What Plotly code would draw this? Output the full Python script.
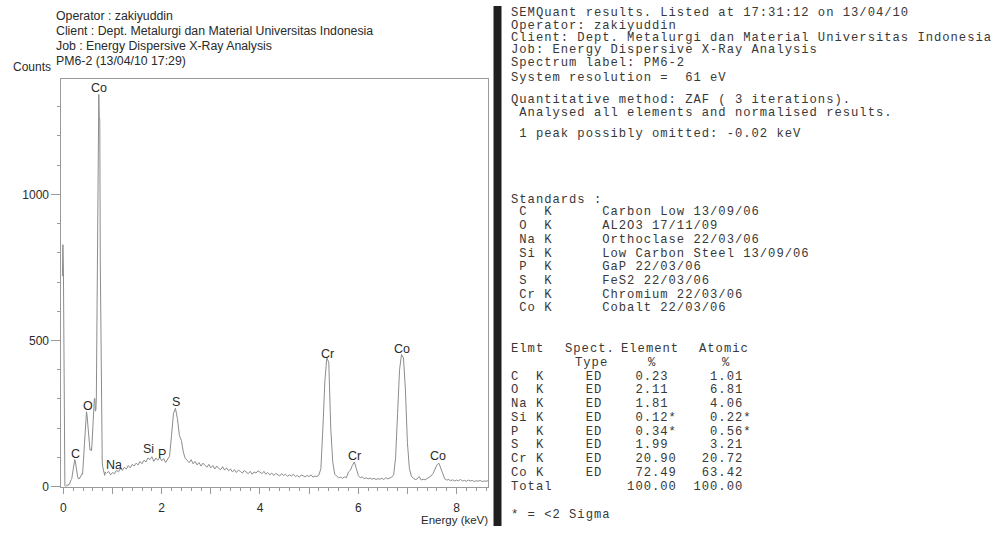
import plotly.graph_objects as go

# ---------------------------------------------------------------------------
# EDS spectrum of sample PM6-2
# ---------------------------------------------------------------------------
# Low-energy channels, 10 eV spacing, starting at -0.02 keV
LOW_E0 = -0.02
LOW_DE = 0.01
low_counts = [
    720, 828, 745, 330, 25, 2, 0, 1, 3, 2,
    6, 4, 7, 5, 8, 14, 11, 18, 24, 27,
    38, 52, 64, 78, 88, 92, 89, 76, 58, 45,
    38, 33, 29, 26, 30, 27, 31, 36, 33, 39,
    44, 42, 70, 90, 120, 160, 200, 232, 250, 256,
    246, 228, 200, 172, 150, 132, 126, 128, 124, 122,
    140, 175, 210, 262, 300, 302, 301, 258, 262, 300,
    520, 917, 925, 1340, 1342, 1262, 1258, 780, 520, 250,
    112, 84, 68, 56, 50, 44, 38, 50, 45,
]

# Main channels, 40 eV spacing, starting at 0.88 keV
MAIN_E0 = 0.88
MAIN_DE = 0.04
main_counts = [
    45, 52, 40, 48, 44, 56, 50, 62, 55, 66,        # 0.88 - 1.24
    60, 72, 64, 76, 70, 80, 74, 86, 78, 90,        # 1.28 - 1.64
    84, 98, 92, 102, 86, 98, 90, 100, 88, 96,      # 1.68 - 2.04
    82, 94, 104, 175, 250, 268, 232, 175, 158, 118,  # 2.08 - 2.44
    96, 90, 82, 92, 78, 86, 74, 82, 70, 80,        # 2.48 - 2.84
    72, 66, 76, 64, 72, 60, 70, 62, 58, 68,        # 2.88 - 3.24
    56, 64, 54, 60, 50, 58, 48, 56, 52, 46,        # 3.28 - 3.64
    55, 48, 44, 52, 42, 50, 46, 54, 48, 44,        # 3.68 - 4.04
    52, 42, 48, 40, 46, 38, 45, 40, 36, 44,        # 4.08 - 4.44
    38, 42, 35, 40, 36, 42, 34, 38, 32, 40,        # 4.48 - 4.84
    36, 33, 38, 34, 40, 32, 36, 34, 40, 62,        # 4.88 - 5.24
    200, 360, 440, 425, 200, 85, 42, 34, 30, 32,   # 5.28 - 5.64
    28, 33, 30, 50, 56, 72, 84, 62, 38, 30,        # 5.68 - 6.04
    33, 27, 30, 26, 29, 25, 28, 24, 27, 25,        # 6.08 - 6.44
    28, 24, 30, 26, 28, 32, 40, 100, 250, 400,     # 6.48 - 6.84
    452, 440, 330, 150, 62, 36, 28, 24, 26, 34,    # 6.88 - 7.24
    22, 25, 23, 27, 30, 36, 44, 60, 74, 80,        # 7.28 - 7.64
    62, 40, 26, 22, 24, 20, 23, 19, 22, 20,        # 7.68 - 8.04
    24, 19, 21, 18, 22, 19, 21, 17, 20, 18,        # 8.08 - 8.44
    21, 17, 19, 18, 20,                            # 8.48 - 8.64
]

peak_names = ["Co", "C", "O", "Na", "Si", "P", "S", "Cr", "Cr", "Co", "Co"]
peak_label_kev = [0.73, 0.25, 0.50, 1.03, 1.74, 2.00, 2.29, 5.38, 5.92, 6.90, 7.63]
peak_label_counts = [1365, 112, 277, 72, 128, 111, 288, 453, 105, 470, 105]

x_tick_vals = [0, 1, 2, 3, 4, 5, 6, 7, 8]
x_tick_text = ["0", "", "2", "", "4", "", "6", "", "8"]
y_tick_vals = [0, 500, 1000]
y_tick_text = ["0", "500", "1000"]

spectrum_header = [
    "Operator : zakiyuddin",
    "Client : Dept. Metalurgi dan Material Universitas Indonesia",
    "Job : Energy Dispersive X-Ray Analysis",
    "PM6-2 (13/04/10 17:29)",
]

# ---------------------------------------------------------------------------
# SEMQuant report
# ---------------------------------------------------------------------------
report_intro = [
    "SEMQuant results. Listed at 17:31:12 on 13/04/10",
    "Operator: zakiyuddin",
    "Client: Dept. Metalurgi dan Material Universitas Indonesia",
    "Job: Energy Dispersive X-Ray Analysis",
    "Spectrum label: PM6-2",
]
report_method = [
    "System resolution =  61 eV",
    "Quantitative method: ZAF ( 3 iterations).",
    " Analysed all elements and normalised results.",
    " 1 peak possibly omitted: -0.02 keV",
]
elements = ["C", "O", "Na", "Si", "P", "S", "Cr", "Co"]
standards = [
    "Carbon Low 13/09/06",
    "AL2O3 17/11/09",
    "Orthoclase 22/03/06",
    "Low Carbon Steel 13/09/06",
    "GaP 22/03/06",
    "FeS2 22/03/06",
    "Chromium 22/03/06",
    "Cobalt 22/03/06",
]
table_heads = ["Elmt", "Spect.", "Element", "Atomic"]
table_units = ["Type", "%", "%"]
element_pct = [0.23, 2.11, 1.81, 0.12, 0.34, 1.99, 20.90, 72.49]
atomic_pct = [1.01, 6.81, 4.06, 0.22, 0.56, 3.21, 20.72, 63.42]
below_2_sigma = [False, False, False, True, True, False, False, False]
element_total = 100.00
atomic_total = 100.00

# ---------------------------------------------------------------------------
W, H = 1000, 533
LEFT_FONT = "Arial, Liberation Sans, Helvetica, sans-serif"
MONO_FONT = "Courier New, Liberation Mono, monospace"
INK = "#2a2a2a"
MONO_INK = "#383838"
MONO_SIZE = 12.2
MONO_PITCH = 8.3                       # printer character pitch in px
MONO_TRACK = MONO_PITCH - 0.6 * MONO_SIZE
TEXT_X = 509


def px_x(x):
    return x / W


def px_y(y):
    return 1 - y / H


def mono(s):
    body = s.replace(" ", "\u00a0")
    return f'<span style="letter-spacing:{MONO_TRACK:.2f}px">{body}</span>'


def mono_note(text, x, y):
    return dict(
        x=px_x(x), y=px_y(y), xref="paper", yref="paper",
        text=mono(text), showarrow=False, xanchor="left", yanchor="middle",
        font=dict(family=MONO_FONT, size=MONO_SIZE, color=MONO_INK),
    )


fig = go.Figure()

fig.add_trace(go.Scatter(
    x0=LOW_E0, dx=LOW_DE, y=low_counts, mode="lines",
    line=dict(color="#8c8c8c", width=1), hoverinfo="skip", showlegend=False,
))
fig.add_trace(go.Scatter(
    x0=MAIN_E0, dx=MAIN_DE, y=main_counts, mode="lines",
    line=dict(color="#8c8c8c", width=1), hoverinfo="skip", showlegend=False,
))

annotations = []

# element labels above peaks
for name, e, c in zip(peak_names, peak_label_kev, peak_label_counts):
    annotations.append(dict(
        x=e, y=c, xref="x", yref="y", text=name, showarrow=False,
        xanchor="center", yanchor="middle",
        font=dict(family=LEFT_FONT, size=12.5, color=INK),
    ))

# spectrum header block
for i, line in enumerate(spectrum_header):
    annotations.append(dict(
        x=px_x(53), y=px_y(16 + 15.3 * i), xref="paper", yref="paper",
        text=line, showarrow=False, xanchor="left", yanchor="middle",
        font=dict(family=LEFT_FONT, size=12.3, color=INK),
    ))
annotations.append(dict(
    x=px_x(10), y=px_y(68), xref="paper", yref="paper", text="Counts",
    showarrow=False, xanchor="left", yanchor="middle",
    font=dict(family=LEFT_FONT, size=12, color=INK),
))
annotations.append(dict(
    x=px_x(489), y=px_y(527), xref="paper", yref="paper", text="Energy (keV)",
    showarrow=False, xanchor="right", yanchor="middle",
    font=dict(family=LEFT_FONT, size=11.5, color=INK),
))

# report text
for i, line in enumerate(report_intro):
    annotations.append(mono_note(line, TEXT_X, 13.5 + 12.5 * i))
for line, y in zip(report_method, [79, 101.7, 114.3, 136]):
    annotations.append(mono_note(line, TEXT_X, y))

annotations.append(mono_note("Standards :", TEXT_X, 202.3))
for i, (el, std) in enumerate(zip(elements, standards)):
    annotations.append(mono_note(" " + el.ljust(3) + "K" + " " * 6 + std,
                                 TEXT_X, 215.3 + 13.9 * i))

# results table: column headings
for head, x in zip(table_heads, [TEXT_X, 563, 619, 697]):
    annotations.append(mono_note(head, x, 354))
for unit, x in zip(table_units, [573, 646, 720]):
    annotations.append(mono_note(unit, x, 368.3))

for i, el in enumerate(elements):
    flag = "*" if below_2_sigma[i] else ""
    row = el.ljust(3) + "K"
    row = row.ljust(9) + "ED"
    row = row.ljust(15) + f"{element_pct[i]:.2f}" + flag
    row = row.ljust(28 - len(f"{atomic_pct[i]:.2f}")) + f"{atomic_pct[i]:.2f}" + flag
    annotations.append(mono_note(row, TEXT_X, 381.7 + 13.9 * i))
total_row = "Total".ljust(14) + f"{element_total:.2f}"
total_row = total_row.ljust(28 - len(f"{atomic_total:.2f}")) + f"{atomic_total:.2f}"
annotations.append(mono_note(total_row, TEXT_X, 493.3))
annotations.append(mono_note("* = <2 Sigma", TEXT_X, 521.7))

# divider bar between spectrum and report
shapes = [dict(
    type="rect", xref="paper", yref="paper",
    x0=px_x(493), x1=px_x(501), y0=0, y1=px_y(6),
    fillcolor="#1f1f1f", line=dict(width=0), layer="above",
)]

axis_color = "#9a9a9a"
fig.update_layout(
    width=W, height=H, autosize=False,
    margin=dict(l=0, r=0, t=0, b=0),
    paper_bgcolor="white", plot_bgcolor="white",
    showlegend=False,
    annotations=annotations,
    shapes=shapes,
    xaxis=dict(
        domain=[px_x(60.5), px_x(487.5)],
        range=[-0.04, 8.64],
        tickvals=x_tick_vals, ticktext=x_tick_text,
        ticks="outside", ticklen=6, tickcolor=axis_color, tickwidth=1,
        minor=dict(dtick=0.2, ticks="outside", ticklen=3, tickcolor=axis_color),
        showline=True, linecolor=axis_color, linewidth=1, mirror=True,
        showgrid=False, zeroline=False,
        tickfont=dict(family=LEFT_FONT, size=12, color=INK),
        ticklabelstandoff=4,
    ),
    yaxis=dict(
        domain=[px_y(493), px_y(80.5)],
        range=[0, 1393.6],
        tickvals=y_tick_vals, ticktext=y_tick_text,
        ticks="outside", ticklen=9, tickcolor=axis_color, tickwidth=1,
        minor=dict(dtick=100, ticks="outside", ticklen=3, tickcolor=axis_color),
        showline=True, linecolor=axis_color, linewidth=1, mirror=True,
        showgrid=False, zeroline=False,
        tickfont=dict(family=LEFT_FONT, size=12, color=INK),
    ),
)

fig.write_html("out.html")
